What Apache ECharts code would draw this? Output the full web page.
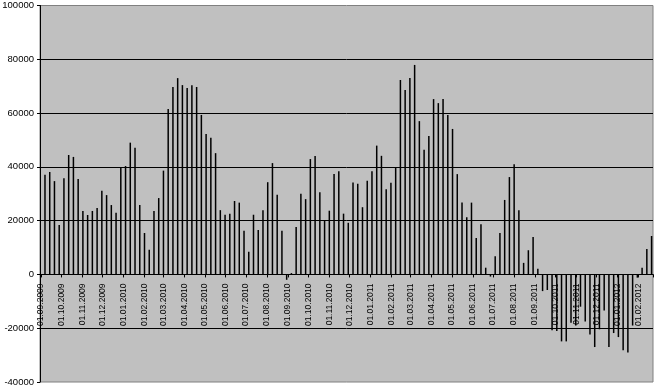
<!DOCTYPE html>
<html>
<head>
<meta charset="utf-8">
<script src="https://cdn.jsdelivr.net/npm/echarts@6/dist/echarts.min.js"></script>
<style>
html,body{margin:0;padding:0;background:#fff;}
#chart{width:657px;height:388px;}
</style>
</head>
<body>
<div id="chart"></div>
<script>
// Weekly dates (Mondays)
var weeks = [
 '2009-09-07','2009-09-14','2009-09-21','2009-09-28','2009-10-05','2009-10-12','2009-10-19','2009-10-26',
 '2009-11-02','2009-11-09','2009-11-16','2009-11-23','2009-11-30','2009-12-07','2009-12-14','2009-12-21','2009-12-28',
 '2010-01-04','2010-01-11','2010-01-18','2010-01-25','2010-02-01','2010-02-08','2010-02-15','2010-02-22',
 '2010-03-01','2010-03-08','2010-03-15','2010-03-22','2010-03-29','2010-04-05','2010-04-12','2010-04-19','2010-04-26',
 '2010-05-03','2010-05-10','2010-05-17','2010-05-24','2010-05-31','2010-06-07','2010-06-14','2010-06-21','2010-06-28',
 '2010-07-05','2010-07-12','2010-07-19','2010-07-26','2010-08-02','2010-08-09','2010-08-16','2010-08-23','2010-08-30',
 '2010-09-06','2010-09-13','2010-09-20','2010-09-27','2010-10-04','2010-10-11','2010-10-18','2010-10-25',
 '2010-11-01','2010-11-08','2010-11-15','2010-11-22','2010-11-29','2010-12-06','2010-12-13','2010-12-20','2010-12-27',
 '2011-01-03','2011-01-10','2011-01-17','2011-01-24','2011-01-31','2011-02-07','2011-02-14','2011-02-21','2011-02-28',
 '2011-03-07','2011-03-14','2011-03-21','2011-03-28','2011-04-04','2011-04-11','2011-04-18','2011-04-25',
 '2011-05-02','2011-05-09','2011-05-16','2011-05-23','2011-05-30','2011-06-06','2011-06-13','2011-06-20','2011-06-27',
 '2011-07-04','2011-07-11','2011-07-18','2011-07-25','2011-08-01','2011-08-08','2011-08-15','2011-08-22','2011-08-29',
 '2011-09-05','2011-09-12','2011-09-19','2011-09-26','2011-10-03','2011-10-10','2011-10-17','2011-10-24','2011-10-31',
 '2011-11-07','2011-11-14','2011-11-21','2011-11-28','2011-12-05','2011-12-12','2011-12-19','2011-12-26',
 '2012-01-02','2012-01-09','2012-01-16','2012-01-23','2012-01-30','2012-02-06','2012-02-13','2012-02-20'
];
var values = [
 37100,38100,34700,18400,35800,44400,43700,35500,
 23600,22100,23600,24700,31100,29500,25800,22900,39800,
 40300,49000,47100,25800,15400,9200,23600,28400,
 38600,61500,69700,73000,70400,69300,70300,69700,59300,
 52200,50800,45100,23900,22200,22600,27300,26700,16200,
 8400,22200,16500,23900,34300,41400,29600,16200,-2000,
 500,17600,30000,28000,42900,44000,30600,20100,
 23700,37300,38400,22600,19200,34200,33700,25000,34800,
 38400,47900,44100,31700,34100,39800,72300,68600,73000,
 77900,57000,46400,51500,65200,63700,65200,59300,
 54100,37300,26700,21300,26700,13500,18700,2500,-800,
 6800,15400,27700,36200,41000,23900,4300,9000,13900,
 2100,-6200,-5800,-20800,-21000,-24900,-24900,-18000,-19000,
 -12000,-17500,-22300,-27000,-20400,-13400,-27000,-21800,
 -23300,-28200,-29000,-19000,-1200,2500,9500,14300
];
var yMin = -40000, yMax = 100000, yStep = 20000;
var xStart = '2009-08-31T18:00:00Z', xEnd = '2012-02-21T00:00:00Z';

var seriesData = weeks.map(function(d, i){ return [d + 'T00:00:00Z', values[i]]; });
function pad(n){ return (n < 10 ? '0' : '') + n; }

var H = 388, gTop = 5.5, gBottom = 6;
var plotH = H - gTop - gBottom;
// distance from grid bottom edge up to the zero line (derived from axis range)
var zeroOffset = plotH * (0 - yMin) / (yMax - yMin);

var chart = echarts.init(document.getElementById('chart'), null, {renderer: 'canvas'});
chart.setOption({
  useUTC: true,
  backgroundColor: '#ffffff',
  animation: false,
  grid: {
    left: 40, right: 4, top: gTop, bottom: gBottom,
    show: true, backgroundColor: '#c0c0c0', borderColor: '#808080', borderWidth: 1,
    containLabel: false, outerBoundsMode: 'none'
  },
  xAxis: {
    type: 'time',
    min: xStart, max: xEnd,
    minInterval: 28 * 86400000, maxInterval: 30 * 86400000,
    offset: -zeroOffset,
    axisLine: { show: true, onZero: false, lineStyle: { color: '#000', width: 1 } },
    axisTick: { show: true, length: 3, lineStyle: { color: '#000' } },
    splitLine: { show: false },
    axisLabel: {
      rotate: 90, margin: 9, fontSize: 8.5, color: '#000', fontFamily: 'Liberation Sans, Arial, sans-serif',
      showMinLabel: true, showMaxLabel: true, hideOverlap: false,
      formatter: function (v) {
        var d = new Date(v);
        if (d.getUTCDate() !== 1 || d.getUTCHours() !== 0) return '';
        return '01.' + pad(d.getUTCMonth() + 1) + '.' + d.getUTCFullYear();
      }
    }
  },
  yAxis: {
    type: 'value', min: yMin, max: yMax, interval: yStep,
    axisLine: { show: true, lineStyle: { color: '#000', width: 1 } },
    axisTick: { show: true, length: 3, lineStyle: { color: '#000' } },
    splitLine: { show: true, showMinLine: false, showMaxLine: false, lineStyle: { color: '#000', width: 1 } },
    axisLabel: { margin: 6, fontSize: 9.5, color: '#000', fontFamily: 'Liberation Sans, Arial, sans-serif',
      formatter: function (v) { return String(v); } }
  },
  series: [{
    type: 'bar',
    data: seriesData,
    barWidth: 1.5,
    itemStyle: { color: '#000' },
    silent: true
  }]
});
</script>
</body>
</html>
